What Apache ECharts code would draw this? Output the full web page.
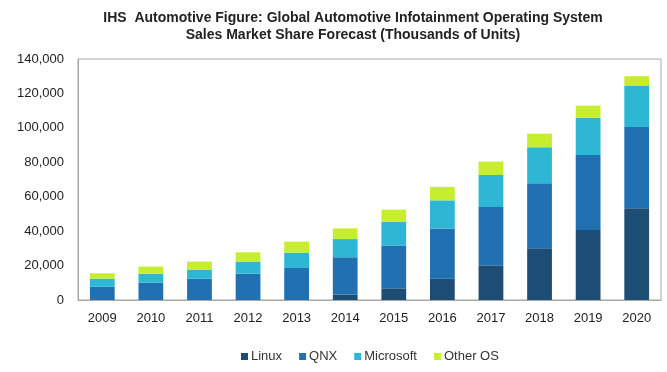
<!DOCTYPE html>
<html>
<head>
<meta charset="utf-8">
<script src="https://cdn.jsdelivr.net/npm/echarts@6/dist/echarts.min.js"></script>
<style>
  html, body { margin: 0; padding: 0; background: #fff; }
  #chartContainer { width: 667px; height: 372px; }
</style>
</head>
<body>
<div id="chartContainer"></div>
<script>
// years on the x axis
let years = ['2009','2010','2011','2012','2013','2014','2015','2016','2017','2018','2019','2020'];
// thousands of units
let linux     = [0, 0, 0, 0, 0, 3000, 6800, 12400, 20100, 30000, 40700, 53300];
let qnx       = [7700, 10100, 12400, 15300, 18600, 21800, 24800, 29200, 33900, 37800, 43500, 47200];
let microsoft = [4700, 5200, 5200, 7000, 8900, 10600, 13900, 16300, 18600, 20900, 21700, 23800];
let otherOS   = [3100, 4100, 4700, 5400, 6400, 6200, 7000, 7800, 7800, 7900, 7000, 5700];
let seriesNames = ['Linux', 'QNX', 'Microsoft', 'Other OS'];
let yTicks = [0, 20000, 40000, 60000, 80000, 100000, 120000, 140000];

let colors = ['#1d4d74', '#2070b2', '#2db7d5', '#c6ee2c'];
let seriesData = [linux, qnx, microsoft, otherOS];

var myChart = echarts.init(document.getElementById('chartContainer'));
var option = {
  animation: false,
  title: {
    text: 'IHS  Automotive Figure: Global Automotive Infotainment Operating System\nSales Market Share Forecast (Thousands of Units)',
    left: 348,
    top: 5,
    textAlign: 'center',
    textStyle: {
      fontFamily: 'Liberation Sans Narrow, Arial Narrow, sans-serif',
      fontSize: 14,
      fontWeight: 'bold',
      color: '#222',
      lineHeight: 17
    }
  },
  legend: {
    data: seriesNames,
    bottom: 4,
    left: 236,
    itemWidth: 7,
    itemHeight: 7,
    itemGap: 17,
    icon: 'rect',
    textStyle: {
      fontFamily: 'Liberation Sans, Arial, sans-serif',
      fontSize: 13,
      color: '#333',
      padding: [0, 0, 0, -2]
    }
  },
  grid: {
    left: 78,
    right: 6,
    top: 59,
    bottom: 72,
    show: true,
    borderColor: '#a8a8a8',
    borderWidth: 1
  },
  xAxis: {
    type: 'category',
    data: years,
    axisLine: { lineStyle: { color: '#a8a8a8' } },
    axisTick: { show: false },
    axisLabel: {
      fontFamily: 'Liberation Sans, Arial, sans-serif',
      fontSize: 13,
      color: '#222',
      margin: 12
    }
  },
  yAxis: {
    type: 'value',
    min: yTicks[0],
    max: yTicks[yTicks.length - 1],
    interval: yTicks[1] - yTicks[0],
    splitLine: { show: false },
    axisLine: { show: true, lineStyle: { color: '#a8a8a8' } },
    axisTick: { show: false },
    axisLabel: {
      fontFamily: 'Liberation Sans, Arial, sans-serif',
      fontSize: 13,
      color: '#222',
      margin: 14,
      formatter: function (v) { return v.toLocaleString('en-US'); }
    }
  },
  series: seriesNames.map(function (name, i) {
    return {
      name: name,
      type: 'bar',
      stack: 'total',
      barWidth: '51%',
      itemStyle: { color: colors[i] },
      data: seriesData[i]
    };
  })
};
myChart.setOption(option);
</script>
</body>
</html>
